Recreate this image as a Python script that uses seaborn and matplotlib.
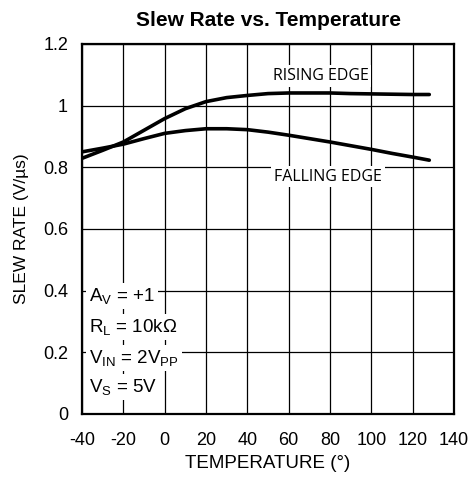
import pandas as pd
import seaborn as sns
import matplotlib.pyplot as plt

# values
TEMPERATURE = [-40, -30, -20, -10, 0, 10, 20, 30, 40, 50, 60, 70, 80, 90, 100, 110, 120, 128]
RISING_EDGE = [0.829, 0.855, 0.882, 0.920, 0.958, 0.990, 1.013, 1.026, 1.033, 1.039,
               1.041, 1.041, 1.041, 1.039, 1.038, 1.037, 1.036, 1.036]
FALLING_EDGE = [0.850, 0.862, 0.875, 0.893, 0.910, 0.919, 0.925, 0.925, 0.922, 0.914,
                0.904, 0.893, 0.882, 0.870, 0.858, 0.845, 0.833, 0.823]

X_TICKS = [-40, -20, 0, 20, 40, 60, 80, 100, 120, 140]
Y_TICKS = [0, 0.2, 0.4, 0.6, 0.8, 1, 1.2]
Y_LABELS = ['0', '0.2', '0.4', '0.6', '0.8', '1', '1.2']

CONDITIONS = [r'A$_\mathregular{V}$ = +1',
              r'R$_\mathregular{L}$ = 10k$\Omega$',
              r'V$_\mathregular{IN}$ = 2V$_\mathregular{PP}$',
              r'V$_\mathregular{S}$ = 5V']
CONDITION_Y = [0.367, 0.266, 0.165, 0.071]

sns.set_style("white")
plt.rcParams['font.family'] = ['Liberation Sans', 'DejaVu Sans']
plt.rcParams['mathtext.fontset'] = 'custom'
plt.rcParams['mathtext.rm'] = 'Liberation Sans'
plt.rcParams['mathtext.it'] = 'Liberation Sans'
plt.rcParams['axes.unicode_minus'] = False
plt.rcParams['text.color'] = 'black'
plt.rcParams['axes.labelcolor'] = 'black'
plt.rcParams['xtick.color'] = 'black'
plt.rcParams['ytick.color'] = 'black'

df = pd.DataFrame({
    'temp': TEMPERATURE * 2,
    'slew': RISING_EDGE + FALLING_EDGE,
    'edge': ['rising'] * len(TEMPERATURE) + ['falling'] * len(TEMPERATURE),
})

fig = plt.figure(figsize=(4.74, 4.83), dpi=100)
ax = fig.add_axes([0.173, 0.143, 0.785, 0.766])

sns.lineplot(data=df, x='temp', y='slew', units='edge', estimator=None,
             color='black', linewidth=2.6, ax=ax, zorder=5)

ax.set_xlim(-40, 140)
ax.set_ylim(0, 1.2)
ax.set_xticks(X_TICKS)
ax.set_yticks(Y_TICKS)
ax.set_yticklabels(Y_LABELS)
ax.tick_params(axis='x', length=0, labelsize=13, pad=13)
ax.tick_params(axis='y', length=0, labelsize=13, pad=10)
ax.grid(True, color='black', linewidth=0.9)
for s in ax.spines.values():
    s.set_color('black')
    s.set_linewidth(1.6)

ax.set_xlabel('TEMPERATURE (°)', fontsize=13.5, labelpad=4)
ax.set_ylabel('SLEW RATE (V/µs)', fontsize=12.5, labelpad=10)
ax.set_title('Slew Rate vs. Temperature', fontsize=15, fontweight='bold', pad=13)

box = dict(facecolor='white', edgecolor='none', pad=2)
ax.text(75.5, 1.096, 'RISING EDGE', family='Open Sans', fontsize=11.5,
        ha='center', va='center', bbox=box, zorder=4)
ax.text(79, 0.770, 'FALLING EDGE', family='Open Sans', fontsize=11.5,
        ha='center', va='center', bbox=box, zorder=4)

for txt, yv in zip(CONDITIONS, CONDITION_Y):
    ax.text(-36.5, yv, txt, fontsize=13.5, ha='left', va='baseline',
            bbox=box, zorder=4)

plt.savefig('out.png', dpi=100)
plt.close()
